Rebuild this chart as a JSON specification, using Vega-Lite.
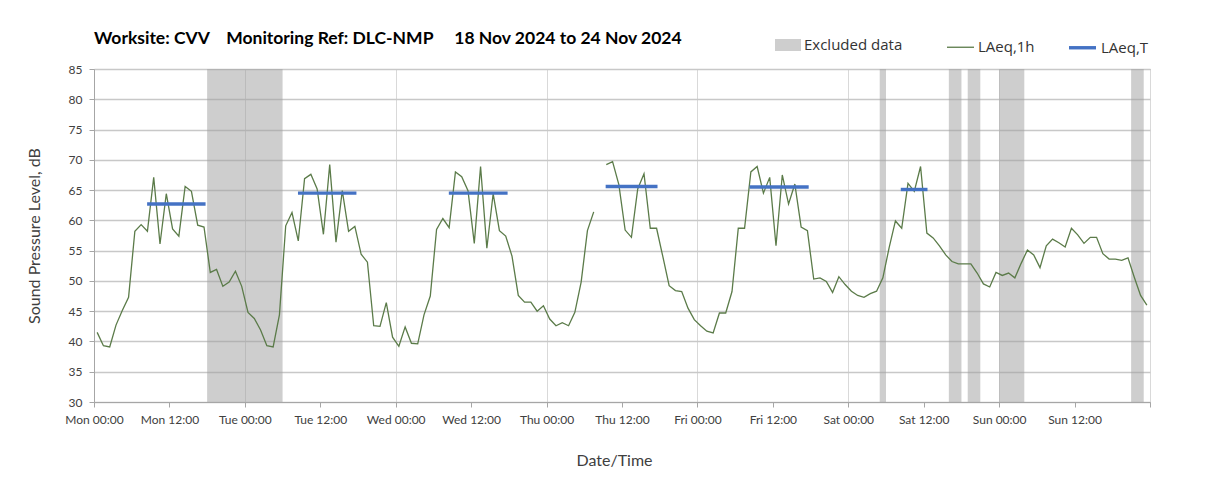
{
  "$schema": "https://vega.github.io/schema/vega-lite/v6.json",
  "width": 1056,
  "height": 333,
  "autosize": {"type": "none"},
  "padding": {"left": 94, "top": 69, "right": 58, "bottom": 91},
  "background": "white",
  "config": {
    "font": "Lato",
    "view": {"stroke": "#a6a6a6", "strokeWidth": 1},
    "axis": {
      "labelFont": "Lato", "labelFontSize": 12, "labelColor": "#404040",
      "titleFont": "Lato", "titleFontWeight": "normal", "titleFontSize": 16, "titleColor": "#404040",
      "domainColor": "#a6a6a6", "tickColor": "#a6a6a6"
    },
    "legend": {"labelFont": "Open Sans", "labelFontSize": 15, "labelColor": "#333333"}
  },
  "title": {
    "text": "Worksite: CVV\u00a0\u00a0\u00a0 Monitoring Ref: DLC-NMP\u00a0\u00a0\u00a0\u00a0 18 Nov 2024 to 24 Nov 2024",
    "anchor": "start", "frame": "group", "offset": 24, "dy": 53, "baseline": "alphabetic",
    "fontSize": 17.5, "fontWeight": "bold", "color": "#000000", "font": "Lato"
  },
  "datasets": {
    "bands": [
      {"h": 18, "h2": 30, "label": "Excluded data"},
      {"h": 125, "h2": 126, "label": "Excluded data"},
      {"h": 136, "h2": 138, "label": "Excluded data"},
      {"h": 139, "h2": 141, "label": "Excluded data"},
      {"h": 144, "h2": 148, "label": "Excluded data"},
      {"h": 165, "h2": 167, "label": "Excluded data"}
    ],
    "lines": [
      {"h": 0.5, "v": 41.5, "series": "LAeq,1h", "seg": "g"},
      {"h": 1.5, "v": 39.3, "series": "LAeq,1h", "seg": "g"},
      {"h": 2.5, "v": 39.1, "series": "LAeq,1h", "seg": "g"},
      {"h": 3.5, "v": 42.7, "series": "LAeq,1h", "seg": "g"},
      {"h": 4.5, "v": 45.1, "series": "LAeq,1h", "seg": "g"},
      {"h": 5.5, "v": 47.3, "series": "LAeq,1h", "seg": "g"},
      {"h": 6.5, "v": 58.2, "series": "LAeq,1h", "seg": "g"},
      {"h": 7.5, "v": 59.3, "series": "LAeq,1h", "seg": "g"},
      {"h": 8.5, "v": 58.2, "series": "LAeq,1h", "seg": "g"},
      {"h": 9.5, "v": 67.1, "series": "LAeq,1h", "seg": "g"},
      {"h": 10.5, "v": 56.1, "series": "LAeq,1h", "seg": "g"},
      {"h": 11.5, "v": 64.4, "series": "LAeq,1h", "seg": "g"},
      {"h": 12.5, "v": 58.6, "series": "LAeq,1h", "seg": "g"},
      {"h": 13.5, "v": 57.4, "series": "LAeq,1h", "seg": "g"},
      {"h": 14.5, "v": 65.6, "series": "LAeq,1h", "seg": "g"},
      {"h": 15.5, "v": 64.8, "series": "LAeq,1h", "seg": "g"},
      {"h": 16.5, "v": 59.2, "series": "LAeq,1h", "seg": "g"},
      {"h": 17.5, "v": 58.9, "series": "LAeq,1h", "seg": "g"},
      {"h": 18.5, "v": 51.4, "series": "LAeq,1h", "seg": "g"},
      {"h": 19.5, "v": 51.9, "series": "LAeq,1h", "seg": "g"},
      {"h": 20.5, "v": 49.1, "series": "LAeq,1h", "seg": "g"},
      {"h": 21.5, "v": 49.8, "series": "LAeq,1h", "seg": "g"},
      {"h": 22.5, "v": 51.6, "series": "LAeq,1h", "seg": "g"},
      {"h": 23.5, "v": 49.1, "series": "LAeq,1h", "seg": "g"},
      {"h": 24.5, "v": 44.8, "series": "LAeq,1h", "seg": "g"},
      {"h": 25.5, "v": 43.8, "series": "LAeq,1h", "seg": "g"},
      {"h": 26.5, "v": 41.9, "series": "LAeq,1h", "seg": "g"},
      {"h": 27.5, "v": 39.3, "series": "LAeq,1h", "seg": "g"},
      {"h": 28.5, "v": 39.1, "series": "LAeq,1h", "seg": "g"},
      {"h": 29.5, "v": 44.4, "series": "LAeq,1h", "seg": "g"},
      {"h": 30.5, "v": 59.1, "series": "LAeq,1h", "seg": "g"},
      {"h": 31.5, "v": 61.3, "series": "LAeq,1h", "seg": "g"},
      {"h": 32.5, "v": 56.6, "series": "LAeq,1h", "seg": "g"},
      {"h": 33.5, "v": 66.9, "series": "LAeq,1h", "seg": "g"},
      {"h": 34.5, "v": 67.6, "series": "LAeq,1h", "seg": "g"},
      {"h": 35.5, "v": 65.2, "series": "LAeq,1h", "seg": "g"},
      {"h": 36.5, "v": 57.7, "series": "LAeq,1h", "seg": "g"},
      {"h": 37.5, "v": 69.2, "series": "LAeq,1h", "seg": "g"},
      {"h": 38.5, "v": 56.4, "series": "LAeq,1h", "seg": "g"},
      {"h": 39.5, "v": 64.9, "series": "LAeq,1h", "seg": "g"},
      {"h": 40.5, "v": 58.2, "series": "LAeq,1h", "seg": "g"},
      {"h": 41.5, "v": 59.0, "series": "LAeq,1h", "seg": "g"},
      {"h": 42.5, "v": 54.4, "series": "LAeq,1h", "seg": "g"},
      {"h": 43.5, "v": 53.1, "series": "LAeq,1h", "seg": "g"},
      {"h": 44.5, "v": 42.6, "series": "LAeq,1h", "seg": "g"},
      {"h": 45.5, "v": 42.5, "series": "LAeq,1h", "seg": "g"},
      {"h": 46.5, "v": 46.4, "series": "LAeq,1h", "seg": "g"},
      {"h": 47.5, "v": 40.7, "series": "LAeq,1h", "seg": "g"},
      {"h": 48.5, "v": 39.2, "series": "LAeq,1h", "seg": "g"},
      {"h": 49.5, "v": 42.4, "series": "LAeq,1h", "seg": "g"},
      {"h": 50.5, "v": 39.7, "series": "LAeq,1h", "seg": "g"},
      {"h": 51.5, "v": 39.6, "series": "LAeq,1h", "seg": "g"},
      {"h": 52.5, "v": 44.4, "series": "LAeq,1h", "seg": "g"},
      {"h": 53.5, "v": 47.5, "series": "LAeq,1h", "seg": "g"},
      {"h": 54.5, "v": 58.5, "series": "LAeq,1h", "seg": "g"},
      {"h": 55.5, "v": 60.3, "series": "LAeq,1h", "seg": "g"},
      {"h": 56.5, "v": 58.8, "series": "LAeq,1h", "seg": "g"},
      {"h": 57.5, "v": 68.0, "series": "LAeq,1h", "seg": "g"},
      {"h": 58.5, "v": 67.2, "series": "LAeq,1h", "seg": "g"},
      {"h": 59.5, "v": 64.9, "series": "LAeq,1h", "seg": "g"},
      {"h": 60.5, "v": 56.2, "series": "LAeq,1h", "seg": "g"},
      {"h": 61.5, "v": 68.9, "series": "LAeq,1h", "seg": "g"},
      {"h": 62.5, "v": 55.4, "series": "LAeq,1h", "seg": "g"},
      {"h": 63.5, "v": 64.4, "series": "LAeq,1h", "seg": "g"},
      {"h": 64.5, "v": 58.3, "series": "LAeq,1h", "seg": "g"},
      {"h": 65.5, "v": 57.4, "series": "LAeq,1h", "seg": "g"},
      {"h": 66.5, "v": 54.1, "series": "LAeq,1h", "seg": "g"},
      {"h": 67.5, "v": 47.6, "series": "LAeq,1h", "seg": "g"},
      {"h": 68.5, "v": 46.5, "series": "LAeq,1h", "seg": "g"},
      {"h": 69.5, "v": 46.5, "series": "LAeq,1h", "seg": "g"},
      {"h": 70.5, "v": 45.0, "series": "LAeq,1h", "seg": "g"},
      {"h": 71.5, "v": 45.9, "series": "LAeq,1h", "seg": "g"},
      {"h": 72.5, "v": 43.7, "series": "LAeq,1h", "seg": "g"},
      {"h": 73.5, "v": 42.6, "series": "LAeq,1h", "seg": "g"},
      {"h": 74.5, "v": 43.1, "series": "LAeq,1h", "seg": "g"},
      {"h": 75.5, "v": 42.6, "series": "LAeq,1h", "seg": "g"},
      {"h": 76.5, "v": 44.8, "series": "LAeq,1h", "seg": "g"},
      {"h": 77.5, "v": 49.8, "series": "LAeq,1h", "seg": "g"},
      {"h": 78.5, "v": 58.3, "series": "LAeq,1h", "seg": "g"},
      {"h": 79.5, "v": 61.4, "series": "LAeq,1h", "seg": "g"},
      {"h": 80.5, "v": null, "series": "LAeq,1h", "seg": "g"},
      {"h": 81.5, "v": 69.2, "series": "LAeq,1h", "seg": "g"},
      {"h": 82.5, "v": 69.7, "series": "LAeq,1h", "seg": "g"},
      {"h": 83.5, "v": 65.9, "series": "LAeq,1h", "seg": "g"},
      {"h": 84.5, "v": 58.4, "series": "LAeq,1h", "seg": "g"},
      {"h": 85.5, "v": 57.2, "series": "LAeq,1h", "seg": "g"},
      {"h": 86.5, "v": 65.2, "series": "LAeq,1h", "seg": "g"},
      {"h": 87.5, "v": 67.7, "series": "LAeq,1h", "seg": "g"},
      {"h": 88.5, "v": 58.7, "series": "LAeq,1h", "seg": "g"},
      {"h": 89.5, "v": 58.7, "series": "LAeq,1h", "seg": "g"},
      {"h": 90.5, "v": 54.0, "series": "LAeq,1h", "seg": "g"},
      {"h": 91.5, "v": 49.2, "series": "LAeq,1h", "seg": "g"},
      {"h": 92.5, "v": 48.4, "series": "LAeq,1h", "seg": "g"},
      {"h": 93.5, "v": 48.25, "series": "LAeq,1h", "seg": "g"},
      {"h": 94.5, "v": 45.5, "series": "LAeq,1h", "seg": "g"},
      {"h": 95.5, "v": 43.6, "series": "LAeq,1h", "seg": "g"},
      {"h": 96.5, "v": 42.6, "series": "LAeq,1h", "seg": "g"},
      {"h": 97.5, "v": 41.7, "series": "LAeq,1h", "seg": "g"},
      {"h": 98.5, "v": 41.4, "series": "LAeq,1h", "seg": "g"},
      {"h": 99.5, "v": 44.7, "series": "LAeq,1h", "seg": "g"},
      {"h": 100.5, "v": 44.7, "series": "LAeq,1h", "seg": "g"},
      {"h": 101.5, "v": 48.25, "series": "LAeq,1h", "seg": "g"},
      {"h": 102.5, "v": 58.7, "series": "LAeq,1h", "seg": "g"},
      {"h": 103.5, "v": 58.7, "series": "LAeq,1h", "seg": "g"},
      {"h": 104.5, "v": 68.0, "series": "LAeq,1h", "seg": "g"},
      {"h": 105.5, "v": 68.9, "series": "LAeq,1h", "seg": "g"},
      {"h": 106.5, "v": 64.5, "series": "LAeq,1h", "seg": "g"},
      {"h": 107.5, "v": 67.1, "series": "LAeq,1h", "seg": "g"},
      {"h": 108.5, "v": 55.8, "series": "LAeq,1h", "seg": "g"},
      {"h": 109.5, "v": 67.5, "series": "LAeq,1h", "seg": "g"},
      {"h": 110.5, "v": 62.7, "series": "LAeq,1h", "seg": "g"},
      {"h": 111.5, "v": 66.0, "series": "LAeq,1h", "seg": "g"},
      {"h": 112.5, "v": 58.9, "series": "LAeq,1h", "seg": "g"},
      {"h": 113.5, "v": 58.3, "series": "LAeq,1h", "seg": "g"},
      {"h": 114.5, "v": 50.3, "series": "LAeq,1h", "seg": "g"},
      {"h": 115.5, "v": 50.5, "series": "LAeq,1h", "seg": "g"},
      {"h": 116.5, "v": 49.9, "series": "LAeq,1h", "seg": "g"},
      {"h": 117.5, "v": 48.1, "series": "LAeq,1h", "seg": "g"},
      {"h": 118.5, "v": 50.7, "series": "LAeq,1h", "seg": "g"},
      {"h": 119.5, "v": 49.4, "series": "LAeq,1h", "seg": "g"},
      {"h": 120.5, "v": 48.3, "series": "LAeq,1h", "seg": "g"},
      {"h": 121.5, "v": 47.6, "series": "LAeq,1h", "seg": "g"},
      {"h": 122.5, "v": 47.3, "series": "LAeq,1h", "seg": "g"},
      {"h": 123.5, "v": 47.9, "series": "LAeq,1h", "seg": "g"},
      {"h": 124.5, "v": 48.3, "series": "LAeq,1h", "seg": "g"},
      {"h": 125.5, "v": 50.5, "series": "LAeq,1h", "seg": "g"},
      {"h": 126.5, "v": 55.5, "series": "LAeq,1h", "seg": "g"},
      {"h": 127.5, "v": 59.9, "series": "LAeq,1h", "seg": "g"},
      {"h": 128.5, "v": 58.7, "series": "LAeq,1h", "seg": "g"},
      {"h": 129.5, "v": 66.1, "series": "LAeq,1h", "seg": "g"},
      {"h": 130.5, "v": 64.8, "series": "LAeq,1h", "seg": "g"},
      {"h": 131.5, "v": 68.9, "series": "LAeq,1h", "seg": "g"},
      {"h": 132.5, "v": 57.9, "series": "LAeq,1h", "seg": "g"},
      {"h": 133.5, "v": 57.1, "series": "LAeq,1h", "seg": "g"},
      {"h": 134.5, "v": 55.8, "series": "LAeq,1h", "seg": "g"},
      {"h": 135.5, "v": 54.3, "series": "LAeq,1h", "seg": "g"},
      {"h": 136.5, "v": 53.2, "series": "LAeq,1h", "seg": "g"},
      {"h": 137.5, "v": 52.8, "series": "LAeq,1h", "seg": "g"},
      {"h": 138.5, "v": 52.8, "series": "LAeq,1h", "seg": "g"},
      {"h": 139.5, "v": 52.8, "series": "LAeq,1h", "seg": "g"},
      {"h": 140.5, "v": 51.3, "series": "LAeq,1h", "seg": "g"},
      {"h": 141.5, "v": 49.5, "series": "LAeq,1h", "seg": "g"},
      {"h": 142.5, "v": 49.0, "series": "LAeq,1h", "seg": "g"},
      {"h": 143.5, "v": 51.4, "series": "LAeq,1h", "seg": "g"},
      {"h": 144.5, "v": 50.9, "series": "LAeq,1h", "seg": "g"},
      {"h": 145.5, "v": 51.3, "series": "LAeq,1h", "seg": "g"},
      {"h": 146.5, "v": 50.5, "series": "LAeq,1h", "seg": "g"},
      {"h": 147.5, "v": 52.9, "series": "LAeq,1h", "seg": "g"},
      {"h": 148.5, "v": 55.1, "series": "LAeq,1h", "seg": "g"},
      {"h": 149.5, "v": 54.3, "series": "LAeq,1h", "seg": "g"},
      {"h": 150.5, "v": 52.2, "series": "LAeq,1h", "seg": "g"},
      {"h": 151.5, "v": 55.8, "series": "LAeq,1h", "seg": "g"},
      {"h": 152.5, "v": 56.9, "series": "LAeq,1h", "seg": "g"},
      {"h": 153.5, "v": 56.3, "series": "LAeq,1h", "seg": "g"},
      {"h": 154.5, "v": 55.6, "series": "LAeq,1h", "seg": "g"},
      {"h": 155.5, "v": 58.7, "series": "LAeq,1h", "seg": "g"},
      {"h": 156.5, "v": 57.6, "series": "LAeq,1h", "seg": "g"},
      {"h": 157.5, "v": 56.2, "series": "LAeq,1h", "seg": "g"},
      {"h": 158.5, "v": 57.2, "series": "LAeq,1h", "seg": "g"},
      {"h": 159.5, "v": 57.2, "series": "LAeq,1h", "seg": "g"},
      {"h": 160.5, "v": 54.5, "series": "LAeq,1h", "seg": "g"},
      {"h": 161.5, "v": 53.6, "series": "LAeq,1h", "seg": "g"},
      {"h": 162.5, "v": 53.6, "series": "LAeq,1h", "seg": "g"},
      {"h": 163.5, "v": 53.4, "series": "LAeq,1h", "seg": "g"},
      {"h": 164.5, "v": 53.8, "series": "LAeq,1h", "seg": "g"},
      {"h": 165.5, "v": 50.6, "series": "LAeq,1h", "seg": "g"},
      {"h": 166.5, "v": 47.6, "series": "LAeq,1h", "seg": "g"},
      {"h": 167.5, "v": 46.0, "series": "LAeq,1h", "seg": "g"},
      {"h": 8.45, "v": 62.7, "series": "LAeq,T", "seg": "Mon"},
      {"h": 17.75, "v": 62.7, "series": "LAeq,T", "seg": "Mon"},
      {"h": 32.45, "v": 64.5, "series": "LAeq,T", "seg": "Tue"},
      {"h": 41.75, "v": 64.5, "series": "LAeq,T", "seg": "Tue"},
      {"h": 56.45, "v": 64.5, "series": "LAeq,T", "seg": "Wed"},
      {"h": 65.8, "v": 64.5, "series": "LAeq,T", "seg": "Wed"},
      {"h": 81.4, "v": 65.6, "series": "LAeq,T", "seg": "Thu"},
      {"h": 89.65, "v": 65.6, "series": "LAeq,T", "seg": "Thu"},
      {"h": 104.3, "v": 65.5, "series": "LAeq,T", "seg": "Fri"},
      {"h": 113.7, "v": 65.5, "series": "LAeq,T", "seg": "Fri"},
      {"h": 128.35, "v": 65.1, "series": "LAeq,T", "seg": "Sat"},
      {"h": 132.6, "v": 65.1, "series": "LAeq,T", "seg": "Sat"}
    ]
  },
  "layer": [
    {
      "data": {"name": "bands"},
      "mark": {"type": "rect", "fillOpacity": 0.5},
      "encoding": {
        "x": {
          "field": "h", "type": "quantitative",
          "scale": {"domain": [0, 168], "nice": false, "zero": false},
          "axis": {
            "title": "Date/Time",
            "values": [0, 12, 24, 36, 48, 60, 72, 84, 96, 108, 120, 132, 144, 156, 168],
            "labelExpr": "datum.value >= 168 ? '' : ['Mon','Tue','Wed','Thu','Fri','Sat','Sun'][floor(datum.value / 24)] + (datum.value % 24 == 0 ? ' 00:00' : ' 12:00')",
            "grid": true,
            "gridColor": {"condition": {"test": "datum.value % 24 != 0", "value": "transparent"}, "value": "#d9d9d9"},
            "gridWidth": 1,
            "tickSize": 5, "labelPadding": 7, "titlePadding": 27, "titleX": 520, "labelFlush": false
          }
        },
        "x2": {"field": "h2"},
        "fill": {
          "field": "label", "type": "nominal",
          "scale": {"range": ["#9e9e9e"]},
          "legend": {
            "title": null, "orient": "none", "legendX": 681, "legendY": -37,
            "symbolType": "M-1,-0.46L1,-0.46L1,0.46L-1,0.46Z", "symbolSize": 676,
            "symbolOpacity": 0.5, "symbolStrokeWidth": 0, "labelOffset": 3
          }
        }
      }
    },
    {
      "data": {"name": "lines"},
      "mark": {"type": "line", "invalid": "break-paths-show-domains", "strokeCap": "butt"},
      "encoding": {
        "x": {"field": "h", "type": "quantitative"},
        "y": {
          "field": "v", "type": "quantitative",
          "scale": {"domain": [30, 85], "nice": false, "zero": false},
          "axis": {
            "title": "Sound Pressure Level, dB",
            "values": [30, 35, 40, 45, 50, 55, 60, 65, 70, 75, 80, 85],
            "gridColor": "#c8c8c8", "gridWidth": 1.4,
            "tickSize": 5, "labelPadding": 7, "titlePadding": 26
          }
        },
        "color": {
          "field": "series", "type": "nominal",
          "scale": {"domain": ["LAeq,1h", "LAeq,T"], "range": ["#5b7b49", "#4472c4"]},
          "legend": {
            "title": null, "orient": "none", "direction": "horizontal",
            "legendX": 852, "legendY": -37,
            "symbolType": "stroke", "symbolSize": 729, "labelOffset": 3, "columnPadding": 27
          }
        },
        "strokeWidth": {
          "field": "series", "type": "nominal",
          "scale": {"domain": ["LAeq,1h", "LAeq,T"], "range": [1.3, 3.4]},
          "legend": {
            "title": null, "orient": "none", "direction": "horizontal",
            "legendX": 852, "legendY": -37,
            "symbolType": "stroke", "symbolSize": 729, "labelOffset": 3, "columnPadding": 27
          }
        },
        "detail": {"field": "seg", "type": "nominal"}
      }
    }
  ]
}
